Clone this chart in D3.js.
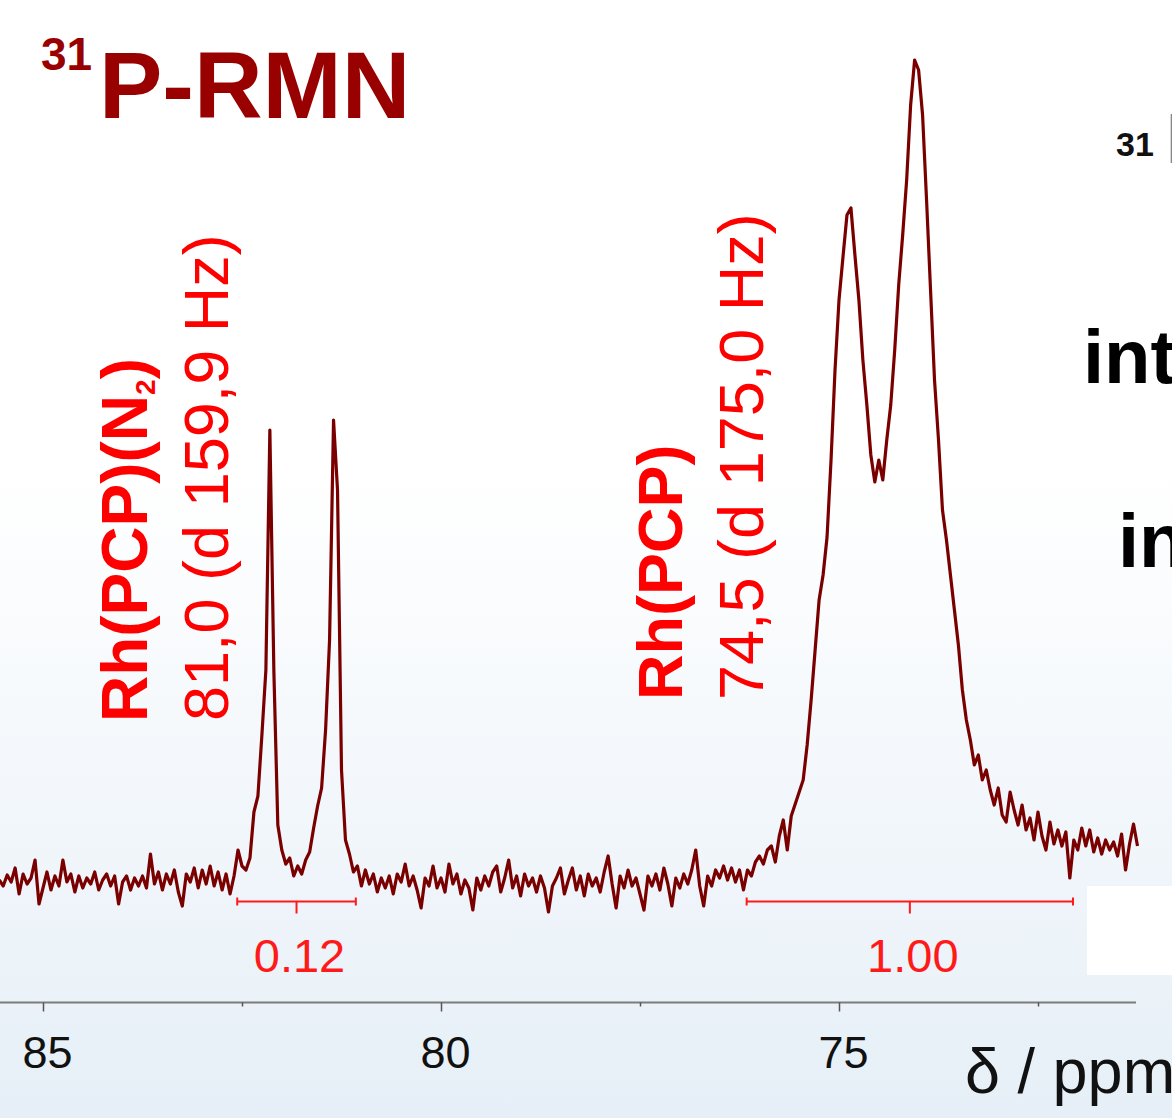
<!DOCTYPE html>
<html>
<head>
<meta charset="utf-8">
<script src="https://cdn.jsdelivr.net/npm/d3@7"></script>
<style>
body { margin: 0; }
svg { display: block; }
</style>
</head>
<body>
<svg></svg>
<script>
var width = 1172;
var height = 1118;

// ============================== DATA ==============================
// spectrum sampled every 0.05 ppm starting at 85.55 ppm (values read off the picture, a.u.)
var ppmStart = 85.55;
var ppmStep = 0.05;
var intensity = [
  0, -6, 5, -2, 12, -14, 6, -4, 2, 20,
  -24, -8, 8, -10, 4, -6, 20, -2, 6, -12,
  4, -8, 2, -4, 8, -10, 0, 6, -6, 4,
  -24, -2, 4, -10, 2, -6, 4, -8, 26, -4,
  8, -10, 6, -4, 10, -12, -26, 6, -2, 12,
  -8, 10, -4, 14, -6, 8, -10, 6, -14, 4,
  30, 14, 10, 22, 68, 84, 145, 210, 450, 210,
  55, 30, 16, 22, 4, 14, 6, 20, 28, 52,
  74, 92, 150, 240, 460, 390, 110, 40, 26, 8,
  14, -6,
  10, -4, 6, -12, 2, -8, 4, -14, 6, -2,
  16, -6, 4, -10, -28, 2, -6, 14, -8, 2,
  -12, 16, -4, 6, -14, 0, -8, -30, 2, -10,
  4, -6, 8, 14, -12, 2, 20, -8, 4, -16,
  6, -6, 2, -12, 4, -8, -32, -6, 2, 12,
  -14, 0, 12, -10, 4, -16, 6, -6, 2, -12,
  8, 24, -4, -28, 4, -8, 10, -6, 2, -14,
  -30, 4, -6, 6, -10, 12, -4, -26, 2, -8,
  6, -4, 10, 30, -6, -26, 4, -6, 10, 2,
  14, 0, 12, -2, 10,
  -10, 10, 4, 18, 24, 16, 30, 34, 18, 44,
  60, 30, 64, 76, 88, 100, 135, 180, 230, 280,
  305, 343, 420, 510, 580, 623, 665, 672, 625, 580,
  520, 475, 425, 398, 420, 400, 440, 475, 530, 595,
  645, 700, 775, 820, 810, 765, 680, 590, 500, 440,
  370, 340, 305, 270, 235, 190, 160, 140, 115, 125,
  100, 110, 90, 75, 92,
  65, 58, 88, 70, 55, 75, 50, 62, 40, 68,
  44, 30, 58, 36, 50, 34, 48, 2, 40, 30,
  52, 34, 50, 28, 42, 26, 40, 30, 38, 24,
  46, 10, 36, 56, 34
];

var majorTicks = [85, 80, 75];
var minorTicks = [82.5, 77.5, 72.5];

var integralFrom = [82.56, 76.16];
var integralTo = [81.07, 72.06];
var integralLabels = ["0.12", "1.00"];
// ==================================================================

var svg = d3.select("svg")
    .attr("width", width)
    .attr("height", height);

var defs = svg.append("defs");
var grad = defs.append("linearGradient")
    .attr("id", "bg")
    .attr("x1", 0).attr("y1", 0).attr("x2", 0).attr("y2", 1);
grad.append("stop").attr("offset", "0").attr("stop-color", "#ffffff");
grad.append("stop").attr("offset", "0.42").attr("stop-color", "#ffffff");
grad.append("stop").attr("offset", "1").attr("stop-color", "#e6eff7");

svg.append("rect")
    .attr("width", width)
    .attr("height", height)
    .attr("fill", "url(#bg)");

// scales
var xs = d3.scaleLinear().domain([85, 70]).range([43, 43 + 15 * 79.6]);
var ys = d3.scaleLinear().domain([0, 820]).range([880, 60]);

var font = "'Liberation Sans', Arial, sans-serif";

// white box bottom right
svg.append("rect")
    .attr("x", 1087).attr("y", 886)
    .attr("width", 85).attr("height", 89)
    .attr("fill", "#ffffff");

// ============================== SPECTRUM ==============================
var line = d3.line()
    .x(function(d, i) { return xs(ppmStart - i * ppmStep); })
    .y(function(d) { return ys(d); });

svg.append("path")
    .datum(intensity)
    .attr("fill", "none")
    .attr("stroke", "#7a0000")
    .attr("stroke-width", 3.2)
    .attr("stroke-linejoin", "round")
    .attr("d", line);

// ============================== INTEGRALS ==============================
var integ = svg.append("g")
    .attr("stroke", "#ff1a1a")
    .attr("stroke-width", 2);

integralFrom.forEach(function(p0, k) {
    var p1 = integralTo[k];
    var mid = (p0 + p1) / 2;
    var yb = 901.5;
    integ.append("line").attr("x1", xs(p0)).attr("x2", xs(p1)).attr("y1", yb).attr("y2", yb);
    integ.append("line").attr("x1", xs(p0)).attr("x2", xs(p0)).attr("y1", yb - 4).attr("y2", yb + 4);
    integ.append("line").attr("x1", xs(p1)).attr("x2", xs(p1)).attr("y1", yb - 4).attr("y2", yb + 4);
    integ.append("line").attr("x1", xs(mid)).attr("x2", xs(mid)).attr("y1", yb).attr("y2", yb + 12);

    svg.append("text")
        .attr("x", xs(mid) + 3)
        .attr("y", 972)
        .attr("text-anchor", "middle")
        .attr("font-family", font)
        .attr("font-size", 47)
        .attr("fill", "#ff1a1a")
        .text(integralLabels[k]);
});

// ============================== AXIS ==============================
var axisY = 1002.5;
svg.append("line")
    .attr("x1", 0).attr("x2", 1136)
    .attr("y1", axisY).attr("y2", axisY)
    .attr("stroke", "#7d7d7d")
    .attr("stroke-width", 2);

var axMajor = svg.append("g")
    .attr("transform", "translate(0," + axisY + ")")
    .call(d3.axisBottom(xs).tickValues(majorTicks).tickSize(9).tickFormat(d3.format("d")));
axMajor.select(".domain").remove();
axMajor.selectAll("line").attr("stroke", "#555").attr("stroke-width", 1.5);
axMajor.selectAll("text")
    .attr("y", 65)
    .attr("dy", null)
    .attr("dx", 4)
    .attr("font-family", font)
    .attr("font-size", 45)
    .attr("fill", "#111");

var axMinor = svg.append("g")
    .attr("transform", "translate(0," + axisY + ")")
    .call(d3.axisBottom(xs).tickValues(minorTicks).tickSize(4).tickFormat(""));
axMinor.select(".domain").remove();
axMinor.selectAll("line").attr("stroke", "#555").attr("stroke-width", 1.5);

svg.append("text")
    .attr("x", 965)
    .attr("y", 1093)
    .attr("font-family", font)
    .attr("font-size", 63)
    .attr("fill", "#111")
    .text("δ / ppm");

// ============================== TITLE ==============================
svg.append("text")
    .attr("x", 41).attr("y", 70)
    .attr("font-family", font)
    .attr("font-weight", "bold")
    .attr("font-size", 46)
    .attr("fill", "#990000")
    .text("31");

svg.append("text")
    .attr("x", 99).attr("y", 118)
    .attr("font-family", font)
    .attr("font-weight", "bold")
    .attr("font-size", 95)
    .attr("fill", "#990000")
    .text("P-RMN");

// ============================== PEAK LABELS ==============================
var l1 = svg.append("text")
    .attr("transform", "translate(147,722) rotate(-90)")
    .attr("font-family", font)
    .attr("font-weight", "bold")
    .attr("font-size", 64)
    .attr("fill", "#ff0000");
l1.append("tspan").text("Rh(PCP)(N");
l1.append("tspan").attr("font-size", 28).attr("dy", 8).text("2");
l1.append("tspan").attr("dy", -8).text(")");

svg.append("text")
    .attr("transform", "translate(228,721) rotate(-90)")
    .attr("font-family", font)
    .attr("font-size", 63)
    .attr("fill", "#ff0000")
    .text("81,0 (d 159,9 Hz)");

svg.append("text")
    .attr("transform", "translate(682,700) rotate(-90)")
    .attr("font-family", font)
    .attr("font-weight", "bold")
    .attr("font-size", 63)
    .attr("fill", "#ff0000")
    .text("Rh(PCP)");

svg.append("text")
    .attr("transform", "translate(763,700) rotate(-90)")
    .attr("font-family", font)
    .attr("font-size", 63)
    .attr("fill", "#ff0000")
    .text("74,5 (d 175,0 Hz)");

// ============================== RIGHT SIDE (cut) ==============================
svg.append("text")
    .attr("x", 1116).attr("y", 156)
    .attr("font-family", font)
    .attr("font-weight", "bold")
    .attr("font-size", 34)
    .attr("fill", "#111")
    .text("31");
svg.append("text")
    .attr("x", 1166).attr("y", 163)
    .attr("font-family", font)
    .attr("font-weight", "bold")
    .attr("font-size", 70)
    .attr("fill", "#888")
    .text("P");

svg.append("text")
    .attr("x", 1083).attr("y", 383)
    .attr("font-family", font)
    .attr("font-weight", "bold")
    .attr("font-size", 76)
    .attr("fill", "#000")
    .text("int");

svg.append("text")
    .attr("x", 1118).attr("y", 567)
    .attr("font-family", font)
    .attr("font-weight", "bold")
    .attr("font-size", 76)
    .attr("fill", "#000")
    .text("in");
</script>
</body>
</html>
